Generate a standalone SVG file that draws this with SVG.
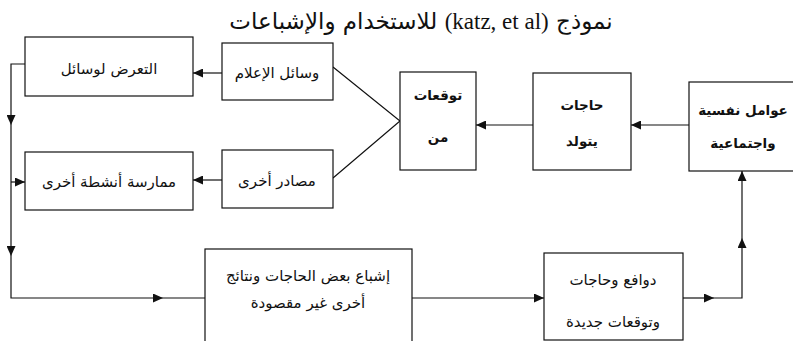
<svg xmlns="http://www.w3.org/2000/svg" width="793" height="341" viewBox="0 0 793 341">
<style>
.box{fill:#fff;stroke:#111;stroke-width:1.2}
.t{font-family:"DejaVu Sans",sans-serif;font-size:15px;fill:#111;text-anchor:middle;dominant-baseline:central;direction:rtl}
.b{font-weight:bold;font-size:13.5px}
.ln{fill:none;stroke:#111;stroke-width:1.2}
.ttl{font-family:"DejaVu Sans",sans-serif;font-size:23px;fill:#111;text-anchor:middle;dominant-baseline:central;direction:rtl}
</style>
<defs>
<marker id="ah" markerUnits="userSpaceOnUse" markerWidth="11" markerHeight="9" refX="10" refY="4.5" orient="auto">
<path d="M0,0 L10,4.5 L0,9 z" fill="#111"/>
</marker>
</defs>
<rect width="793" height="341" fill="#fff"/>
<text class="ttl" x="421" y="21">نموذج <tspan font-family="Liberation Serif">(katz, et al)</tspan> للاستخدام والإشباعات</text>

<g id="connectors">
<path class="ln" d="M222,73 H193" marker-end="url(#ah)"/>
<path class="ln" d="M222,180 H193" marker-end="url(#ah)"/>
<path class="ln" d="M333,67 L400,121 L333,178"/>
<path class="ln" d="M533,125 H476" marker-end="url(#ah)"/>
<path class="ln" d="M689,125 H631" marker-end="url(#ah)"/>
<path class="ln" d="M25,64 H11 V125" marker-end="url(#ah)"/>
<path class="ln" d="M11,125 V256" marker-end="url(#ah)"/>
<path class="ln" d="M11,182 H25" marker-end="url(#ah)"/>
<path class="ln" d="M11,256 V298 H163" marker-end="url(#ah)"/>
<path class="ln" d="M163,298 H205"/>
<path class="ln" d="M412,298 H544" marker-end="url(#ah)"/>
<path class="ln" d="M683,298 H714" marker-end="url(#ah)"/>
<path class="ln" d="M714,298 H742 V238" marker-end="url(#ah)"/>
<path class="ln" d="M742,238 V171" marker-end="url(#ah)"/>
</g>

<g id="n-exposure">
<rect class="box" x="25" y="37" width="168" height="59"/>
<text class="t" x="109" y="69">التعرض لوسائل</text>
</g>
<g id="n-media">
<rect class="box" x="222" y="43" width="111" height="57"/>
<text class="t" x="277" y="73">وسائل الإعلام</text>
</g>
<g id="n-activities">
<rect class="box" x="25" y="152" width="168" height="58"/>
<text class="t" x="109" y="182">ممارسة أنشطة أخرى</text>
</g>
<g id="n-sources">
<rect class="box" x="222" y="150" width="111" height="58"/>
<text class="t" x="277" y="181">مصادر أخرى</text>
</g>
<g id="n-expect">
<rect class="box" x="400" y="72" width="76" height="98"/>
<text class="t b" x="438" y="95">توقعات</text>
<text class="t b" x="438" y="137">من</text>
</g>
<g id="n-needs">
<rect class="box" x="533" y="73" width="98" height="97"/>
<text class="t b" x="582" y="105">حاجات</text>
<text class="t b" x="582" y="141">يتولد</text>
</g>
<g id="n-factors">
<rect class="box" x="689" y="82" width="115" height="89"/>
<text class="t b" x="743" y="110">عوامل نفسية</text>
<text class="t b" x="743" y="143">واجتماعية</text>
</g>
<g id="n-gratification">
<rect class="box" x="205" y="249" width="207" height="100"/>
<text class="t" x="308" y="276">إشباع بعض الحاجات ونتائج</text>
<text class="t" x="308" y="303">أخرى غير مقصودة</text>
</g>
<g id="n-motives">
<rect class="box" x="544" y="253" width="139" height="87"/>
<text class="t" x="613" y="280">دوافع وحاجات</text>
<text class="t" x="613" y="322">وتوقعات جديدة</text>
</g>
</svg>
